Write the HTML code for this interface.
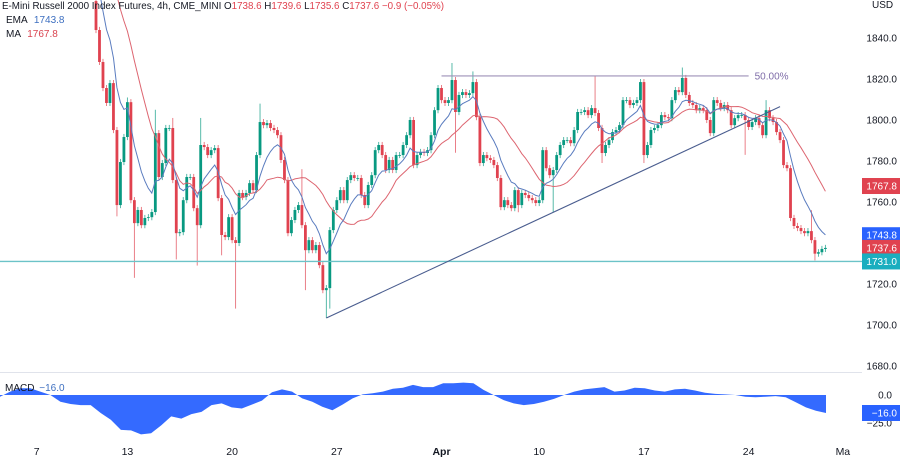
<!DOCTYPE html>
<html><head><meta charset="utf-8"><style>
html,body{margin:0;padding:0;background:#fff;}
svg{display:block;font-family:"Liberation Sans",sans-serif;}
</style></head><body>
<svg id="chart" width="900" height="458" viewBox="0 0 900 458" xmlns="http://www.w3.org/2000/svg">
<rect x="0" y="0" width="900" height="458" fill="#ffffff"/>
<defs><clipPath id="pc"><rect x="0" y="0" width="862" height="372"/></clipPath><clipPath id="mc"><rect x="0" y="373" width="862" height="66"/></clipPath></defs>
<g id="candles" clip-path="url(#pc)"></g>
<g id="lines" clip-path="url(#pc)"></g>
<line x1="0" y1="372.5" x2="862" y2="372.5" stroke="#e0e3eb"/>
<g id="macd" clip-path="url(#mc)"></g>
<g id="axis"></g>
<text x="872" y="8" font-size="10" fill="#131722">USD</text>
<g font-size="10">
<text x="2" y="9" fill="#131722" textLength="442" lengthAdjust="spacingAndGlyphs">E-Mini Russell 2000 Index Futures, 4h, CME_MINI  <tspan fill="#131722">O</tspan><tspan fill="#e0424f">1738.6</tspan>  <tspan fill="#131722">H</tspan><tspan fill="#e0424f">1739.6</tspan>  <tspan fill="#131722">L</tspan><tspan fill="#e0424f">1735.6</tspan>  <tspan fill="#131722">C</tspan><tspan fill="#e0424f">1737.6</tspan>  <tspan fill="#e0424f">−0.9 (−0.05%)</tspan></text>
<text x="6" y="23" fill="#131722">EMA <tspan fill="#3d6fc0" dx="4">1743.8</tspan></text>
<text x="6" y="37" fill="#131722">MA <tspan fill="#d9434f" dx="4">1767.8</tspan></text>
<text x="5" y="391" fill="#131722">MACD <tspan fill="#3d6fc0" dx="2">−16.0</tspan></text>
</g>
<g id="dates" font-size="10.5" fill="#131722" text-anchor="middle"></g>
</svg>
<script>
const priorCloses=[1925,1928,1920,1922,1915,1918,1910,1912,1905,1908,1900,1902,1895,1890,1885,1880,1875,1870,1865,1858];
const closes=[1843.9,1828.3,1815.6,1808.3,1818.0,1795.1,1758.5,1779.5,1791.7,1808.7,
1760.9,1749.7,1756.1,1748.7,1752.2,1752.6,1755.1,1793.6,1772.2,1779.0,
1796.1,1796.1,1770.7,1744.8,1745.3,1760.9,1772.2,1772.2,1757.0,1748.7,
1787.8,1786.8,1782.9,1785.3,1786.3,1761.9,1743.9,1742.9,1752.6,1741.4,
1740.0,1764.4,1762.4,1764.4,1769.2,1765.8,1782.9,1799.0,1797.5,1798.5,
1796.1,1795.1,1792.6,1780.5,1770.7,1744.8,1751.2,1756.1,1758.5,1748.7,
1736.5,1741.4,1736.5,1739.0,1729.2,1717.0,1718.0,1746.3,1756.1,1760.9,
1765.8,1760.9,1770.7,1773.1,1771.7,1771.7,1763.4,1758.5,1768.3,1773.1,
1785.3,1787.8,1782.9,1775.6,1780.5,1775.6,1782.9,1782.9,1787.8,1792.6,
1800.0,1778.0,1782.9,1784.4,1783.9,1785.3,1792.6,1804.8,1815.6,1809.7,
1808.3,1809.7,1819.5,1803.9,1812.2,1813.6,1812.2,1813.1,1818.5,1801.4,
1779.0,1782.9,1781.4,1780.5,1778.0,1771.7,1757.5,1760.9,1758.5,1757.0,
1765.8,1758.5,1764.4,1763.4,1761.9,1760.9,1759.5,1760.9,1785.3,1776.5,
1773.1,1775.6,1782.9,1787.8,1790.2,1790.2,1788.7,1795.1,1803.9,1803.9,
1804.8,1802.4,1805.8,1803.4,1796.1,1783.9,1787.8,1790.2,1794.1,1795.1,
1797.5,1809.7,1809.7,1807.3,1808.3,1809.7,1818.5,1782.9,1787.8,1795.1,
1796.1,1797.5,1802.4,1801.4,1800.9,1809.7,1814.6,1813.6,1820.5,1812.2,
1808.3,1807.3,1804.8,1805.8,1804.8,1800.0,1793.6,1809.7,1808.3,1805.8,
1807.3,1804.8,1797.5,1800.9,1802.4,1802.4,1800.0,1796.6,1799.0,1800.9,
1797.5,1792.6,1804.8,1800.9,1799.0,1794.1,1790.2,1778.0,1776.5,1752.2,
1748.3,1747.3,1745.8,1744.8,1745.8,1741.4,1734.8,1735.5,1737.1,1737.6];
const hiIdx=[0,9,17,22,30,47,59,102,108,143,168,192,205];
const hiVal=[1870,1811,1805,1801,1801,1808,1776,1827.8,1823.7,1821.6,1825.6,1809.7,1756];
const loIdx=[6,11,23,29,36,40,60,66,67,103,121,131,145,157,186,206];
const loVal=[1753,1723,1732,1729,1734,1708,1717,1703.4,1708,1784,1755,1755,1779,1779,1783,1731.5];
const macdVals=[-1.5,3,6,6,3,0,-6,-8,-9,-9,-16,-22,-31,-31.5,-35,-34,-27,-19,-21,-17,-15,-9,-7.5,-11,-12,-8.5,-5,2.5,5,3,-3,-6,-10.5,-13.5,-8.5,-3,0.5,1.5,3,5.5,6.5,9,7,7,10.5,10.5,11,10.5,4.5,0,-4.5,-7.5,-9,-8,-6,-3.5,0,3,5,6,7,3,4,6.5,6,4,3,5,5.5,4,2,1,0.5,0,-1.5,-2,-1.5,-1,-2,-6.5,-11,-14,-16];
const priceTicks=[1840,1820,1800,1780,1760,1720,1700,1680];
const dateLabels=["7","13","20","27","Apr","10","17","24","Ma"];
const dateBars=[-17,9,39,69,99,127,157,187,214];
const trendStart=[66,1703.4],trendEnd=[196,1806.5];
const fibLevel=1821.5, fibStart=99, fibEnd=187;
const supportLevel=1731.0;

const NS="http://www.w3.org/2000/svg";
const Y=p=>79+(1820-p)*2.05;
const X=i=>96+i*3.49;
const MY=v=>395-v*1.125;
function el(tag,attrs,parent){const e=document.createElementNS(NS,tag);for(const k in attrs)e.setAttribute(k,attrs[k]);parent.appendChild(e);return e;}
const cg=document.getElementById('candles'),lg=document.getElementById('lines'),mg=document.getElementById('macd'),ag=document.getElementById('axis'),dg=document.getElementById('dates');
const UP="#089981",DN="#e0424f";
const sl=el('line',{x1:0,x2:862,y1:Y(supportLevel),y2:Y(supportLevel),stroke:"#6cc3c8","stroke-width":1.3},lg);


let prev=priorCloses[priorCloses.length-1];
closes.forEach((c,i)=>{
  const o=prev;prev=c;
  let h=Math.max(o,c)+1.5,l=Math.min(o,c)-1.5;
  const hi=hiIdx.indexOf(i);if(hi>=0)h=Math.max(h,hiVal[hi]);
  const li=loIdx.indexOf(i);if(li>=0)l=Math.min(l,loVal[li]);
  const col=c>=o?UP:DN;const x=X(i);
  const g=el('g',{},cg);
  
  
  el('line',{x1:x,x2:x,y1:Y(h),y2:Y(l),stroke:col,"stroke-width":0.9,opacity:0.75},g);
  const y1=Y(Math.max(o,c)),y2=Y(Math.min(o,c));
  el('rect',{x:x-1.4,y:y1,width:2.8,height:Math.max(0.8,y2-y1),fill:col},g);
});
const all=priorCloses.concat(closes),off=priorCloses.length;
let ema=all[0],emaPts=[],maPts=[];
all.forEach((c,k)=>{ema=ema+(c-ema)*0.2;const i=k-off;
  if(k>=8)emaPts.push(X(i).toFixed(1)+","+Y(ema).toFixed(1));
  if(k>=19){let s=0;for(let j=k-19;j<=k;j++)s+=all[j];maPts.push(X(i).toFixed(1)+","+Y(s/20).toFixed(1));}
});
const maL=el('polyline',{points:maPts.join(" "),fill:"none",stroke:"#dd6570","stroke-width":1},lg);


const emL=el('polyline',{points:emaPts.join(" "),fill:"none",stroke:"#5a7cbf","stroke-width":1},lg);


const tl=el('line',{x1:X(trendStart[0]),y1:Y(trendStart[1]),x2:X(trendEnd[0]),y2:Y(trendEnd[1]),stroke:"#4a5d8f","stroke-width":1.1},lg);


const fl=el('line',{x1:X(fibStart),x2:X(fibEnd),y1:Y(fibLevel),y2:Y(fibLevel),stroke:"#9e90b8","stroke-width":1.2},lg);


const ft=el('text',{x:X(fibEnd)+6,y:Y(fibLevel)+3.5,"font-size":10,fill:"#7e6ca8"},lg);
ft.textContent="50.00%";


const n=macdVals.length;const mx=i=>i*826/(n-1);
let d="M0,395 ";macdVals.forEach((v,i)=>{d+="L"+mx(i).toFixed(1)+","+MY(v).toFixed(1)+" ";});d+="L826,395 Z";
const mp=el('path',{d:d,fill:"#2962ff",opacity:0.95},mg);


priceTicks.forEach(p=>{const t=el('text',{x:897,y:Y(p)+3.5,"font-size":10,fill:"#131722","text-anchor":"end"},ag);t.textContent=p.toFixed(1);

});
[["0.0",MY(0)],["−25.0",MY(-25)]].forEach(a=>{const t=el('text',{x:892,y:a[1]+3.5,"font-size":10,fill:"#131722","text-anchor":"end"},ag);t.textContent=a[0];

});
function badge(y,txt,bg,name){const g=el('g',{},ag);


el('rect',{x:862,y:y-8,width:38,height:16,fill:bg},g);const t=el('text',{x:897,y:y+3.5,"font-size":10,fill:"#fff","text-anchor":"end"},g);t.textContent=txt;}
badge(Y(1767.8),"1767.8","#e0424f","ma-price-badge");
badge(Y(1743.8),"1743.8","#2962ff","ema-price-badge");
badge(Y(1737.6),"1737.6","#e0424f","last-price-badge");
badge(Y(supportLevel),"1731.0","#1aaebf","support-price-badge");
badge(MY(-16),"−16.0","#2962ff","macd-value-badge");
dateLabels.forEach((s,i)=>{const t=el('text',{x:X(dateBars[i]),y:455,"font-weight":s=="Apr"?"bold":"normal"},dg);t.textContent=s;

});
</script>
</body></html>
